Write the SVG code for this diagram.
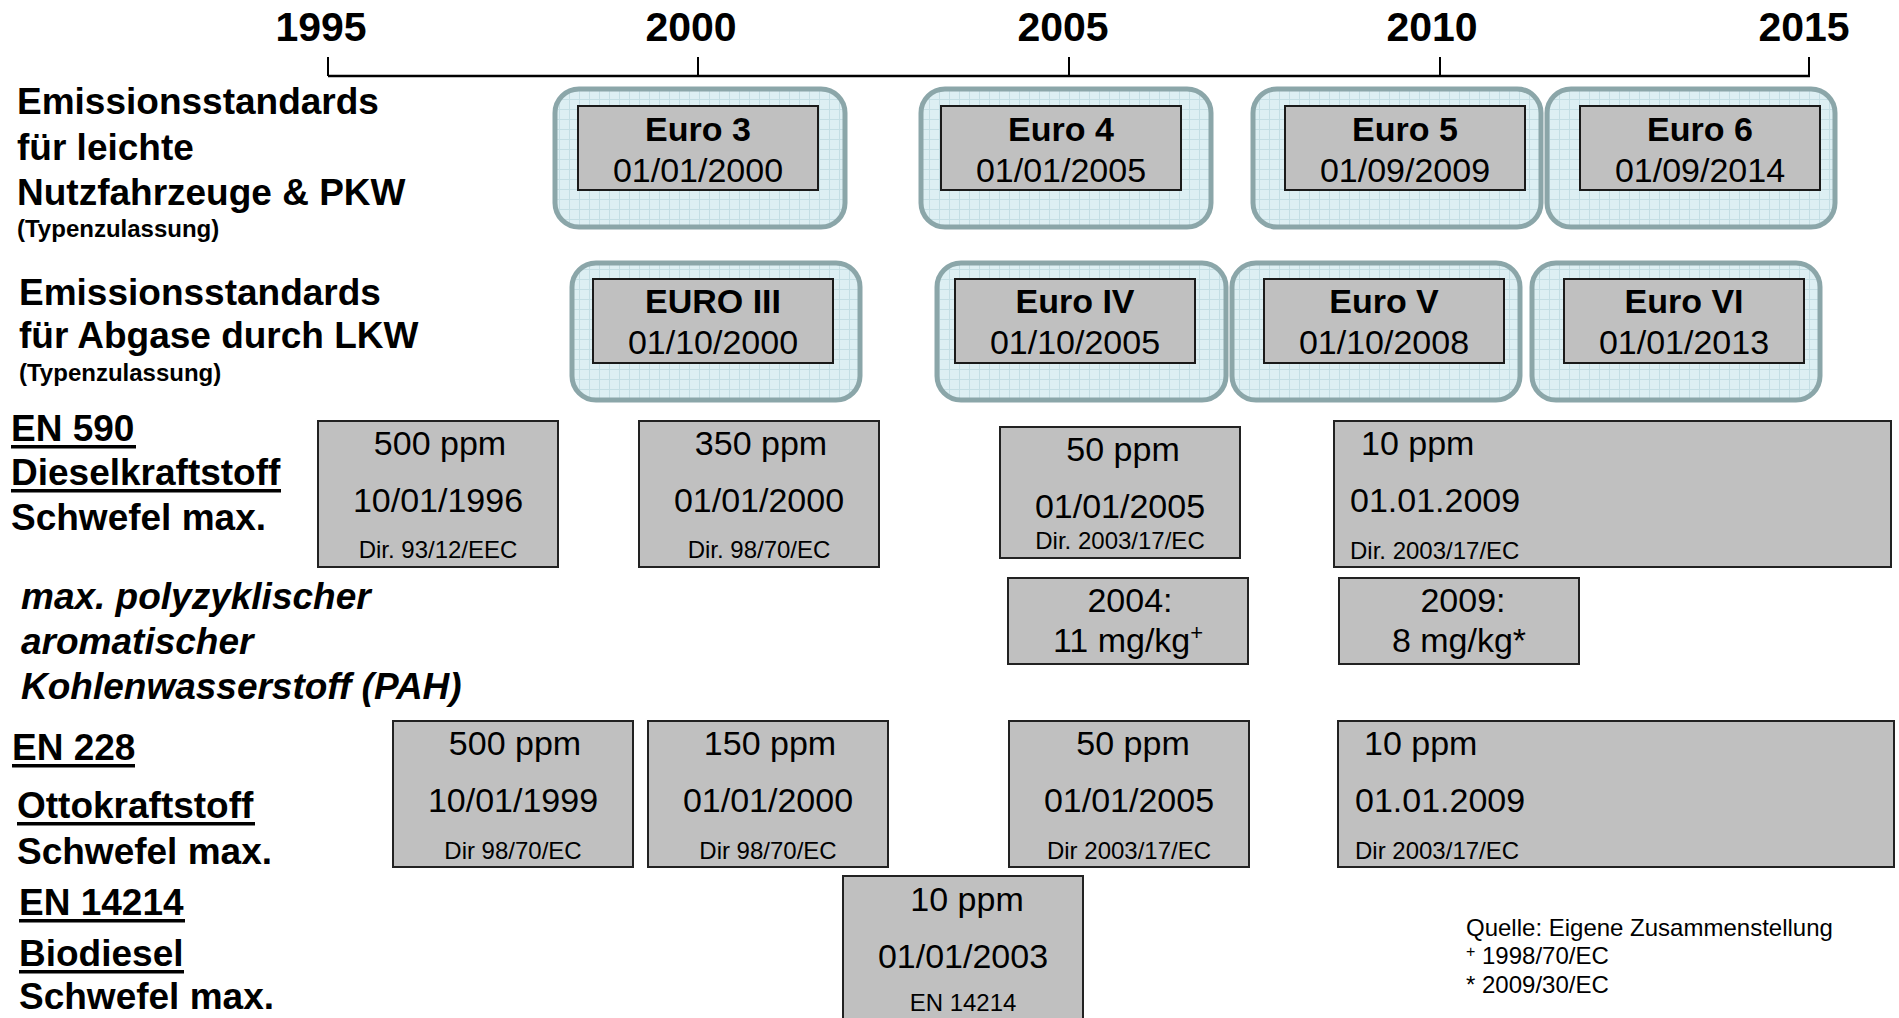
<svg xmlns="http://www.w3.org/2000/svg" width="1899" height="1018" viewBox="0 0 1899 1018">
<style>
text{font-family:"Liberation Sans",Arial,sans-serif;fill:#000}
.yr{font-size:41px;font-weight:bold;text-anchor:middle}
.lb{font-size:37px;font-weight:bold}
.lbi{font-size:37px;font-weight:bold;font-style:italic}
.sm{font-size:24px;font-weight:bold}
.ul{fill:#000}
.outer{fill:url(#grid);stroke:#8ba6a9;stroke-width:5}
.inner{fill:#c0c0c0;stroke:#1a1a1a;stroke-width:2}
.box{fill:#c0c0c0;stroke:#222;stroke-width:2}
.nm{font-size:34px;font-weight:bold;text-anchor:middle}
.dt{font-size:34px;text-anchor:middle}
.v{font-size:34px;text-anchor:middle}
.vl{font-size:34px}
.d{font-size:24px;text-anchor:middle}
.dl{font-size:24px}
.fn{font-size:24px}
</style>
<defs>
<pattern id="grid" width="10" height="10" patternUnits="userSpaceOnUse">
<rect width="10" height="10" fill="#ddeff3"/>
<path d="M9.5 0V10M0 9.5H10" stroke="#c4dee4" stroke-width="1" fill="none"/>
</pattern>
</defs>
<rect width="1899" height="1018" fill="#fff"/>

<g id="axis">
<line x1="328" y1="76" x2="1810" y2="76" stroke="#000" stroke-width="2.5"/>
<g stroke="#000" stroke-width="2">
<line x1="328" y1="57" x2="328" y2="76"/>
<line x1="698" y1="57" x2="698" y2="76"/>
<line x1="1069" y1="57" x2="1069" y2="76"/>
<line x1="1440" y1="57" x2="1440" y2="76"/>
<line x1="1809" y1="57" x2="1809" y2="76"/>
</g>
<text class="yr" x="321" y="41">1995</text>
<text class="yr" x="691" y="41">2000</text>
<text class="yr" x="1063" y="41">2005</text>
<text class="yr" x="1432" y="41">2010</text>
<text class="yr" x="1804" y="41">2015</text>
</g>

<g id="label-pkw">
<text class="lb" x="17" y="114">Emissionsstandards</text>
<text class="lb" x="17" y="160">für leichte</text>
<text class="lb" x="17" y="205">Nutzfahrzeuge &amp; PKW</text>
<text class="sm" x="17" y="237">(Typenzulassung)</text>
</g>
<g id="label-lkw">
<text class="lb" x="19" y="305">Emissionsstandards</text>
<text class="lb" x="19" y="348">für Abgase durch LKW</text>
<text class="sm" x="19" y="381">(Typenzulassung)</text>
</g>
<g id="label-en590">
<text class="lb" x="11" y="441">EN 590</text>
<rect class="ul" x="11" y="445" width="125" height="3.5"/>
<text class="lb" x="11" y="485">Dieselkraftstoff</text>
<rect class="ul" x="11" y="489" width="270" height="3.5"/>
<text class="lb" x="11" y="530">Schwefel max.</text>
</g>
<g id="label-pah">
<text class="lbi" x="21" y="609">max. polyzyklischer</text>
<text class="lbi" x="21" y="654">aromatischer</text>
<text class="lbi" x="21" y="699">Kohlenwasserstoff (PAH)</text>
</g>
<g id="label-en228">
<text class="lb" x="12" y="760">EN 228</text>
<rect class="ul" x="12" y="764" width="123" height="3.5"/>
<text class="lb" x="17" y="818">Ottokraftstoff</text>
<rect class="ul" x="17" y="822" width="238" height="3.5"/>
<text class="lb" x="17" y="864">Schwefel max.</text>
</g>
<g id="label-en14214">
<text class="lb" x="19" y="915">EN 14214</text>
<rect class="ul" x="19" y="919" width="166" height="3.5"/>
<text class="lb" x="19" y="966">Biodiesel</text>
<rect class="ul" x="19" y="970" width="165" height="3.5"/>
<text class="lb" x="19" y="1009">Schwefel max.</text>
</g>

<g id="euro3">
<rect class="outer" x="555" y="89" width="290" height="138" rx="24"/>
<rect class="inner" x="578" y="106" width="240" height="84"/>
<text class="nm" x="698" y="141">Euro 3</text>
<text class="dt" x="698" y="182">01/01/2000</text>
</g>
<g id="euro4">
<rect class="outer" x="921" y="89" width="290" height="138" rx="24"/>
<rect class="inner" x="941" y="106" width="240" height="84"/>
<text class="nm" x="1061" y="141">Euro 4</text>
<text class="dt" x="1061" y="182">01/01/2005</text>
</g>
<g id="euro5">
<rect class="outer" x="1253" y="89" width="288" height="138" rx="24"/>
<rect class="inner" x="1285" y="106" width="240" height="84"/>
<text class="nm" x="1405" y="141">Euro 5</text>
<text class="dt" x="1405" y="182">01/09/2009</text>
</g>
<g id="euro6">
<rect class="outer" x="1547" y="89" width="288" height="138" rx="24"/>
<rect class="inner" x="1580" y="106" width="240" height="84"/>
<text class="nm" x="1700" y="141">Euro 6</text>
<text class="dt" x="1700" y="182">01/09/2014</text>
</g>

<g id="euroIII">
<rect class="outer" x="572" y="263" width="288" height="137" rx="24"/>
<rect class="inner" x="593" y="279" width="240" height="84"/>
<text class="nm" x="713" y="313">EURO III</text>
<text class="dt" x="713" y="354">01/10/2000</text>
</g>
<g id="euroIV">
<rect class="outer" x="937" y="263" width="289" height="137" rx="24"/>
<rect class="inner" x="955" y="279" width="240" height="84"/>
<text class="nm" x="1075" y="313">Euro IV</text>
<text class="dt" x="1075" y="354">01/10/2005</text>
</g>
<g id="euroV">
<rect class="outer" x="1232" y="263" width="288" height="137" rx="24"/>
<rect class="inner" x="1264" y="279" width="240" height="84"/>
<text class="nm" x="1384" y="313">Euro V</text>
<text class="dt" x="1384" y="354">01/10/2008</text>
</g>
<g id="euroVI">
<rect class="outer" x="1532" y="263" width="288" height="137" rx="24"/>
<rect class="inner" x="1564" y="279" width="240" height="84"/>
<text class="nm" x="1684" y="313">Euro VI</text>
<text class="dt" x="1684" y="354">01/01/2013</text>
</g>

<g id="en590-1996">
<rect class="box" x="318" y="421" width="240" height="146"/>
<text class="v" x="440" y="455">500 ppm</text>
<text class="v" x="438" y="512">10/01/1996</text>
<text class="d" x="438" y="558">Dir. 93/12/EEC</text>
</g>
<g id="en590-2000">
<rect class="box" x="639" y="421" width="240" height="146"/>
<text class="v" x="761" y="455">350 ppm</text>
<text class="v" x="759" y="512">01/01/2000</text>
<text class="d" x="759" y="558">Dir. 98/70/EC</text>
</g>
<g id="en590-2005">
<rect class="box" x="1000" y="427" width="240" height="131"/>
<text class="v" x="1123" y="461">50 ppm</text>
<text class="v" x="1120" y="518">01/01/2005</text>
<text class="d" x="1120" y="549">Dir. 2003/17/EC</text>
</g>
<g id="en590-2009">
<rect class="box" x="1334" y="421" width="557" height="146"/>
<text class="vl" x="1361" y="455">10 ppm</text>
<text class="vl" x="1350" y="512">01.01.2009</text>
<text class="dl" x="1350" y="559">Dir. 2003/17/EC</text>
</g>

<g id="pah-2004">
<rect class="box" x="1008" y="578" width="240" height="86"/>
<text class="v" x="1130" y="612">2004:</text>
<text class="v" x="1128" y="652">11 mg/kg<tspan font-size="22" dy="-12">+</tspan></text>
</g>
<g id="pah-2009">
<rect class="box" x="1339" y="578" width="240" height="86"/>
<text class="v" x="1463" y="612">2009:</text>
<text class="v" x="1459" y="652">8 mg/kg*</text>
</g>

<g id="en228-1999">
<rect class="box" x="393" y="721" width="240" height="146"/>
<text class="v" x="515" y="755">500 ppm</text>
<text class="v" x="513" y="812">10/01/1999</text>
<text class="d" x="513" y="859">Dir 98/70/EC</text>
</g>
<g id="en228-2000">
<rect class="box" x="648" y="721" width="240" height="146"/>
<text class="v" x="770" y="755">150 ppm</text>
<text class="v" x="768" y="812">01/01/2000</text>
<text class="d" x="768" y="859">Dir 98/70/EC</text>
</g>
<g id="en228-2005">
<rect class="box" x="1009" y="721" width="240" height="146"/>
<text class="v" x="1133" y="755">50 ppm</text>
<text class="v" x="1129" y="812">01/01/2005</text>
<text class="d" x="1129" y="859">Dir 2003/17/EC</text>
</g>
<g id="en228-2009">
<rect class="box" x="1338" y="721" width="556" height="146"/>
<text class="vl" x="1364" y="755">10 ppm</text>
<text class="vl" x="1355" y="812">01.01.2009</text>
<text class="dl" x="1355" y="859">Dir 2003/17/EC</text>
</g>

<g id="en14214-2003">
<rect class="box" x="843" y="876" width="240" height="160"/>
<text class="v" x="967" y="911">10 ppm</text>
<text class="v" x="963" y="968">01/01/2003</text>
<text class="d" x="963" y="1011">EN 14214</text>
</g>

<g id="footnote">
<text class="fn" x="1466" y="936">Quelle: Eigene Zusammenstellung</text>
<text class="fn" x="1466" y="964"><tspan font-size="16" dy="-7">+</tspan><tspan dy="7"> 1998/70/EC</tspan></text>
<text class="fn" x="1466" y="993">* 2009/30/EC</text>
</g>
</svg>
